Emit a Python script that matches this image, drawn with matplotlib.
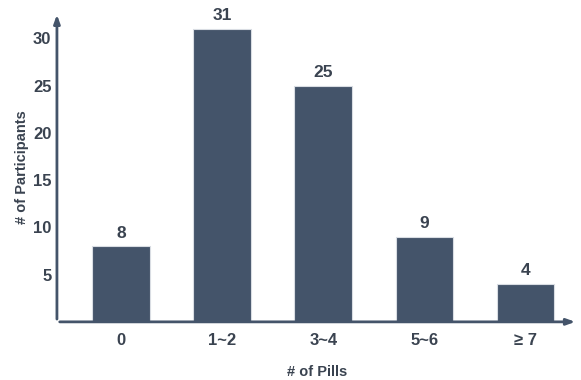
import matplotlib
matplotlib.use("Agg")
import matplotlib.pyplot as plt

# pill counts and number of participants in each group
categories = ["0", "1~2", "3~4", "5~6", "\u2265 7"]
participants = [8, 31, 25, 9, 4]
yticks = [5, 10, 15, 20, 25, 30]

bar_color = "#44546a"
text_color = "#3a4350"

plt.rcParams['font.family'] = ['Liberation Sans', 'DejaVu Sans']
plt.rcParams['font.weight'] = 'bold'

fig = plt.figure(figsize=(5.81, 3.80), dpi=100)
ax = fig.add_axes([0.098, 0.153, 0.897, 0.816])

x = range(len(categories))
bars = ax.bar(x, participants, width=0.57, color=bar_color,
              edgecolor="#d9dde3", linewidth=0.8, zorder=2)

for xi, v in zip(x, participants):
    ax.text(xi, v + 0.6, str(v), ha='center', va='bottom',
            fontsize=12.5, fontweight='bold', color=text_color)

ax.set_xlim(-0.634, 4.52)
ax.set_ylim(0, 32.8)
ax.set_xticks(list(x))
ax.set_xticklabels(categories)
ax.set_yticks(yticks)
ax.tick_params(length=0, labelsize=12, labelcolor=text_color, pad=8)
ax.tick_params(axis='y', pad=4)
for lab in ax.get_xticklabels() + ax.get_yticklabels():
    lab.set_fontweight('bold')

for s in ax.spines.values():
    s.set_visible(False)

# axis lines with arrow heads
arrow = dict(arrowstyle='-|>,head_length=0.5,head_width=0.18', color=bar_color, lw=2)
ax.annotate('', xy=(1.0, 0), xytext=(0, 0), xycoords='axes fraction',
            arrowprops=arrow, annotation_clip=False)
ax.annotate('', xy=(0, 1.0), xytext=(0, 0), xycoords='axes fraction',
            arrowprops=arrow, annotation_clip=False)

ax.set_xlabel("# of Pills", fontsize=10.5, fontweight='bold', color=text_color, labelpad=12)
ax.set_ylabel("# of Participants", fontsize=10.5, fontweight='bold', color=text_color, labelpad=3)

fig.savefig("out.png", dpi=100)
